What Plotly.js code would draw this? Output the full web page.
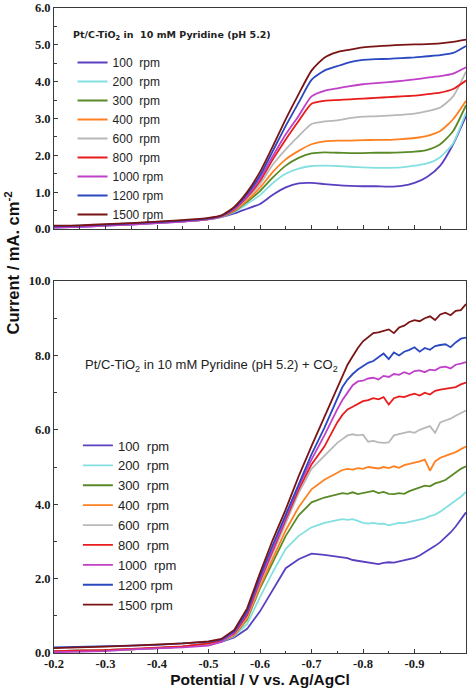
<!DOCTYPE html>
<html>
<head>
<meta charset="utf-8">
<script src="https://cdn.plot.ly/plotly-3.0.1.min.js"></script>
<style>html,body{margin:0;padding:0;background:#fff;}#chart{width:474px;height:689px;}</style>
</head>
<body>
<div id="chart"></div>
<script>
// ---------- data ----------
const rpmTopNames = ['100  rpm','200  rpm','300  rpm','400  rpm','600  rpm','800  rpm','1000 rpm','1200 rpm','1500 rpm'];
const rpmBottomNames = ['100  rpm','200  rpm','300  rpm','400  rpm','600  rpm','800  rpm','1000  rpm','1200 rpm','1500 rpm'];
const seriesColors = ['#5a3fc0','#84e0e0','#5a8a28','#ff8020','#b8b8b8','#e81c1c','#c040c8','#2a48c0','#7a1414'];

const xTickValues = [-0.2,-0.3,-0.4,-0.5,-0.6,-0.7,-0.8,-0.9,-1.0];
const xTickLabels = ['-0.2','-0.3','-0.4','-0.5','-0.6','-0.7','-0.8','-0.9','-1.0'];

// top panel: Pt/C-TiO2 in 10 mM pyridine (pH 5.2)
const potentialTop = [-0.2,-0.25,-0.3,-0.35,-0.4,-0.45,-0.5,-0.525,-0.55,-0.575,-0.6,-0.625,-0.65,-0.675,-0.7,-0.725,-0.75,-0.775,-0.8,-0.825,-0.85,-0.875,-0.9,-0.925,-0.95,-0.975,-1.0];
const top100  = [0.04,0.06,0.09,0.12,0.16,0.2,0.26,0.32,0.42,0.55,0.68,0.93,1.13,1.24,1.25,1.22,1.19,1.17,1.16,1.16,1.15,1.17,1.25,1.42,1.72,2.3,3.07];
const top200  = [0.05,0.07,0.1,0.13,0.17,0.21,0.27,0.33,0.46,0.68,0.92,1.25,1.5,1.64,1.71,1.72,1.71,1.69,1.67,1.66,1.66,1.67,1.72,1.78,1.95,2.33,3.16];
const top300  = [0.05,0.07,0.1,0.13,0.17,0.21,0.27,0.34,0.48,0.74,1.03,1.4,1.72,1.93,2.05,2.08,2.07,2.06,2.06,2.07,2.07,2.08,2.1,2.15,2.3,2.66,3.36];
const top400  = [0.05,0.07,0.1,0.13,0.17,0.21,0.27,0.34,0.5,0.78,1.12,1.55,1.89,2.12,2.3,2.38,2.4,2.4,2.41,2.42,2.42,2.44,2.47,2.53,2.66,2.98,3.48];
const top600  = [0.06,0.08,0.1,0.13,0.17,0.21,0.28,0.35,0.52,0.83,1.22,1.75,2.16,2.52,2.85,2.92,2.95,3.01,3.05,3.06,3.08,3.1,3.13,3.2,3.3,3.6,4.27];
const top800  = [0.06,0.08,0.11,0.14,0.18,0.22,0.28,0.35,0.53,0.87,1.3,1.89,2.43,2.93,3.4,3.48,3.5,3.52,3.54,3.56,3.58,3.6,3.62,3.66,3.7,3.8,4.03];
const top1000 = [0.04,0.06,0.09,0.12,0.16,0.2,0.27,0.35,0.55,0.9,1.37,1.98,2.57,3.07,3.6,3.75,3.82,3.88,3.93,3.96,3.99,4.02,4.06,4.11,4.15,4.22,4.39];
const top1200 = [0.07,0.09,0.12,0.15,0.19,0.23,0.29,0.36,0.58,0.95,1.45,2.12,2.8,3.43,4.05,4.3,4.42,4.53,4.59,4.61,4.62,4.64,4.66,4.69,4.72,4.78,4.97];
const top1500 = [0.09,0.1,0.13,0.16,0.2,0.24,0.3,0.37,0.6,1.0,1.55,2.25,2.98,3.66,4.3,4.65,4.8,4.87,4.93,4.96,4.98,5.0,5.01,5.02,5.04,5.08,5.14];

// bottom panel: same + CO2
const potentialBottom = [-0.2,-0.25,-0.3,-0.35,-0.4,-0.45,-0.5,-0.525,-0.55,-0.575,-0.6,-0.625,-0.65,-0.675,-0.7,-0.725,-0.75,-0.76,-0.77,-0.78,-0.79,-0.8,-0.81,-0.82,-0.83,-0.84,-0.85,-0.86,-0.87,-0.88,-0.89,-0.9,-0.91,-0.92,-0.93,-0.94,-0.95,-0.96,-0.97,-0.98,-0.99,-1.0];
const co2_100  = [0.05,0.06,0.08,0.1,0.13,0.17,0.24,0.3,0.42,0.65,1.12,1.72,2.28,2.52,2.67,2.64,2.58,2.56,2.55,2.5,2.48,2.45,2.43,2.41,2.39,2.42,2.44,2.43,2.46,2.48,2.52,2.56,2.62,2.7,2.78,2.88,2.98,3.1,3.24,3.4,3.58,3.78];
const co2_200  = [0.05,0.06,0.08,0.1,0.13,0.17,0.24,0.31,0.45,0.78,1.5,2.18,2.8,3.15,3.38,3.5,3.57,3.6,3.58,3.6,3.55,3.5,3.48,3.5,3.47,3.48,3.43,3.47,3.5,3.49,3.52,3.55,3.58,3.62,3.68,3.72,3.8,3.9,4.0,4.1,4.2,4.33];
const co2_300  = [0.05,0.06,0.08,0.1,0.13,0.17,0.25,0.32,0.47,0.9,1.74,2.46,3.15,3.7,4.05,4.18,4.27,4.3,4.28,4.32,4.27,4.3,4.33,4.36,4.3,4.33,4.28,4.27,4.3,4.28,4.35,4.4,4.45,4.5,4.48,4.56,4.6,4.65,4.75,4.85,4.95,5.02];
const co2_400  = [0.05,0.06,0.08,0.1,0.13,0.17,0.25,0.33,0.48,0.93,1.79,2.55,3.3,3.92,4.4,4.66,4.85,4.92,4.95,4.93,4.97,4.95,5.0,4.98,4.96,5.0,4.97,5.02,4.98,5.05,5.08,5.1,5.15,5.2,4.9,5.15,5.25,5.3,5.35,5.4,5.48,5.55];
const co2_600  = [0.05,0.06,0.08,0.1,0.13,0.17,0.25,0.33,0.5,0.98,1.88,2.69,3.54,4.3,4.95,5.3,5.65,5.75,5.85,5.88,5.85,5.87,5.68,5.7,5.66,5.65,5.66,5.85,5.88,5.9,5.95,5.92,6.0,6.05,6.1,5.92,6.2,6.25,6.3,6.38,6.45,6.52];
const co2_800  = [0.05,0.06,0.08,0.11,0.14,0.18,0.26,0.34,0.52,1.02,1.93,2.78,3.59,4.39,5.07,5.55,6.2,6.4,6.55,6.62,6.7,6.77,6.8,6.85,6.82,6.88,6.68,6.85,6.9,6.88,6.93,6.97,6.92,7.0,6.95,7.05,7.08,7.1,7.12,7.15,7.22,7.27];
const co2_1000 = [0.02,0.03,0.05,0.1,0.12,0.15,0.2,0.3,0.55,1.08,1.97,2.82,3.63,4.48,5.2,5.85,6.55,6.8,7.0,7.2,7.3,7.32,7.38,7.4,7.35,7.45,7.42,7.5,7.48,7.55,7.5,7.58,7.6,7.55,7.62,7.6,7.68,7.7,7.65,7.75,7.78,7.82];
const co2_1200 = [0.15,0.16,0.18,0.2,0.22,0.25,0.3,0.36,0.58,1.12,2.06,2.91,3.72,4.57,5.34,6.05,6.85,7.15,7.35,7.5,7.62,7.7,7.8,7.85,7.95,8.05,7.9,8.08,8.0,8.1,8.15,8.22,8.1,8.2,8.15,8.25,8.28,8.3,8.22,8.35,8.45,8.48];
const co2_1500 = [0.13,0.14,0.17,0.2,0.23,0.26,0.31,0.38,0.62,1.2,2.15,3.05,3.86,4.75,5.56,6.35,7.15,7.45,7.75,7.98,8.2,8.38,8.5,8.6,8.62,8.65,8.7,8.6,8.75,8.8,8.9,8.95,8.92,9.0,9.05,8.95,9.1,9.15,9.08,9.2,9.22,9.38];

const topSeries = [top100, top200, top300, top400, top600, top800, top1000, top1200, top1500];
const bottomSeries = [co2_100, co2_200, co2_300, co2_400, co2_600, co2_800, co2_1000, co2_1200, co2_1500];

// ---------- traces ----------
const traces = [];
topSeries.forEach((ys, i) => {
  traces.push({
    type: 'scatter', mode: 'lines', x: potentialTop, y: ys,
    xaxis: 'x2', yaxis: 'y2', name: rpmTopNames[i], legend: 'legend2',
    line: {color: seriesColors[i], width: 1.8, shape: 'spline', smoothing: 0.6}
  });
});
bottomSeries.forEach((ys, i) => {
  traces.push({
    type: 'scatter', mode: 'lines', x: potentialBottom, y: ys,
    xaxis: 'x', yaxis: 'y', name: rpmBottomNames[i], legend: 'legend',
    line: {color: seriesColors[i], width: 1.8}
  });
});

function tickFont() {
  return {family: 'Liberation Serif, Times New Roman, serif', size: 12.5, color: '#1a1a1a', weight: 'bold'};
}
function axisBase() {
  return {showline: true, linecolor: '#3a3a3a', linewidth: 1, mirror: true, showgrid: false, zeroline: false,
    ticks: 'inside', ticklen: 4, tickcolor: '#3a3a3a', tickfont: tickFont()};
}

const layout = {
  width: 474, height: 689,
  margin: {l: 54, r: 8, t: 8, b: 36},
  paper_bgcolor: '#fff', plot_bgcolor: '#fff',
  showlegend: true,
  xaxis: Object.assign(axisBase(), {
    range: [-0.2, -1.0], tickmode: 'array', tickvals: xTickValues, ticktext: xTickLabels,
    anchor: 'y', ticklabelstandoff: -1,
    minor: {tickmode: 'linear', tick0: -0.25, dtick: 0.1, ticks: 'inside', ticklen: 2.5, tickcolor: '#3a3a3a'},
    title: {text: 'Potential / V vs. Ag/AgCl', standoff: 3,
      font: {family: 'Liberation Sans, Arial, sans-serif', size: 15.5, color: '#111', weight: 'bold'}}
  }),
  yaxis: Object.assign(axisBase(), {
    domain: [0, 0.5767], range: [0, 10], dtick: 2, tickformat: '.1f', anchor: 'x',
    minor: {dtick: 1, ticks: 'inside', ticklen: 2.5, tickcolor: '#3a3a3a'}
  }),
  xaxis2: Object.assign(axisBase(), {
    range: [-0.2, -1.0], tickmode: 'array', tickvals: xTickValues, ticktext: xTickLabels,
    anchor: 'y2', showticklabels: false,
    minor: {tickmode: 'linear', tick0: -0.25, dtick: 0.1, ticks: 'inside', ticklen: 2.5, tickcolor: '#3a3a3a'}
  }),
  yaxis2: Object.assign(axisBase(), {
    domain: [0.6574, 1], range: [0, 6], dtick: 1, tickformat: '.1f', anchor: 'x2',
    minor: {dtick: 0.5, ticks: 'inside', ticklen: 2.5, tickcolor: '#3a3a3a'}
  }),
  legend2: {
    x: 0.045, y: 0.938, xanchor: 'left', yanchor: 'top', bgcolor: 'rgba(0,0,0,0)',
    font: {family: 'Liberation Sans, Arial, sans-serif', size: 12, color: '#222'},
    traceorder: 'normal', borderwidth: 0
  },
  legend: {
    x: 0.058, y: 0.345, xanchor: 'left', yanchor: 'top', bgcolor: 'rgba(0,0,0,0)',
    font: {family: 'Liberation Sans, Arial, sans-serif', size: 13, color: '#222'},
    traceorder: 'normal', borderwidth: 0
  },
  annotations: [
    {xref: 'paper', yref: 'paper', x: 0.041, y: 0.9566, xanchor: 'left', yanchor: 'middle', showarrow: false,
     text: 'Pt/C-TiO<sub>2</sub> in  10 mM Pyridine (pH 5.2)',
     font: {family: 'DejaVu Sans, Liberation Sans, sans-serif', size: 9.5, color: '#222', weight: 'bold'}},
    {xref: 'paper', yref: 'paper', x: 0.0697, y: 0.445, xanchor: 'left', yanchor: 'middle', showarrow: false,
     text: 'Pt/C-TiO<sub>2</sub> in 10 mM Pyridine (pH 5.2) + CO<sub>2</sub>',
     font: {family: 'Liberation Sans, Arial, sans-serif', size: 13, color: '#222'}},
    {xref: 'paper', yref: 'paper', x: -0.103, y: 0.6047, xanchor: 'center', yanchor: 'middle', showarrow: false,
     textangle: -90, text: 'Current / mA. cm<sup>-2</sup>',
     font: {family: 'Liberation Sans, Arial, sans-serif', size: 16.5, color: '#111', weight: 'bold'}}
  ]
};

Plotly.newPlot('chart', traces, layout, {displayModeBar: false, staticPlot: true});
</script>
</body>
</html>
